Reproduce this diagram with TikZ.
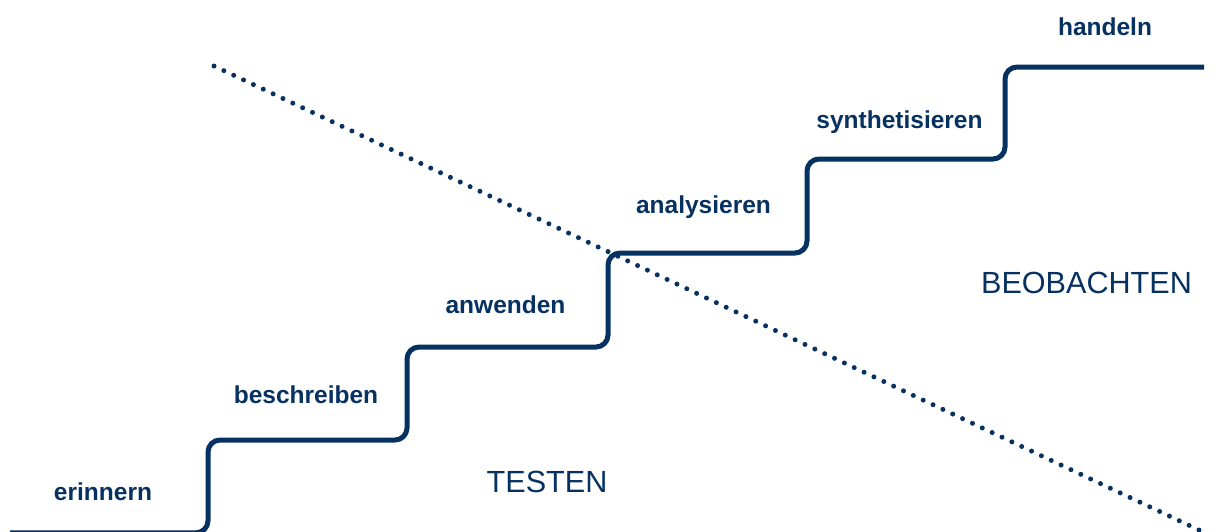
\documentclass[tikz,border=0pt]{standalone}
\usepackage{fontspec}
\setmainfont{Liberation Sans}
\definecolor{navy}{RGB}{6,49,96}
\tikzset{
  stair/.style={draw=navy, line width=5pt, rounded corners=12pt},
  divider/.style={draw=navy, line width=5pt, line cap=round, dash pattern=on 0pt off 10.888pt},
  level/.style={text=navy, anchor=base, inner sep=0pt, font=\bfseries\fontsize{24.5}{24.5}\selectfont},
  region/.style={text=navy, anchor=base, inner sep=0pt, font=\fontsize{30.6}{30.6}\selectfont}
}
\begin{document}
\begin{tikzpicture}[x=1pt, y=-1pt]
\useasboundingbox (0,0) rectangle (1216,531);

% corners of the staircase
\coordinate (s0) at (10,532.8);
\coordinate (s1) at (208,440);
\coordinate (s2) at (407,347);
\coordinate (s3) at (608,253);
\coordinate (s4) at (807,159);
\coordinate (s5) at (1005,67);
\coordinate (s6) at (1204,67);

% dotted dividing line
\coordinate (d0) at (214,66);
\coordinate (d1) at (1199,530);
\draw[divider] (d0) -- (d1);

% staircase
\draw[stair] (s0) -| (s1) -| (s2) -| (s3) -| (s4) -| (s5) -- (s6);

% step labels
\node[level] (l1) at (103,500) {erinnern};
\node[level] (l2) at (306,403) {beschreiben};
\node[level] (l3) at (505.5,313) {anwenden};
\node[level] (l4) at (703.5,213) {analysieren};
\node[level] (l5) at (899.5,128) {synthetisieren};
\node[level] (l6) at (1105,35) {handeln};

% region labels
\node[region] (r1) at (547,492) {TESTEN};
\node[region] (r2) at (1086.5,293) {BEOBACHTEN};
\end{tikzpicture}
\end{document}
